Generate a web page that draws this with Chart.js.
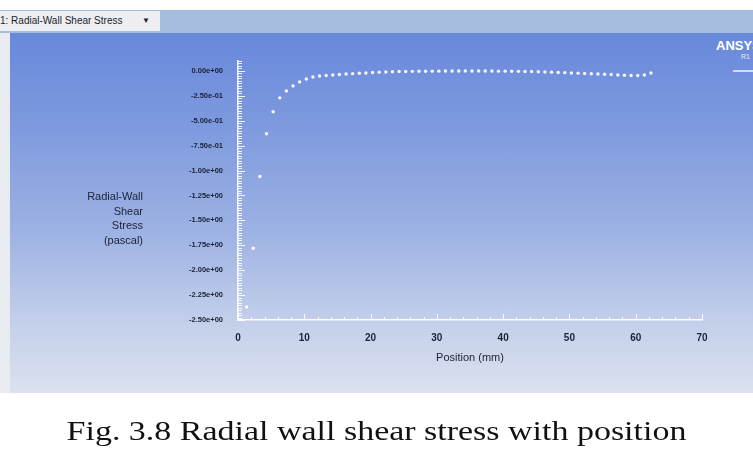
<!DOCTYPE html>
<html>
<head>
<meta charset="utf-8">
<script src="https://cdn.jsdelivr.net/npm/chart.js@4/dist/chart.umd.min.js"></script>
<style>
  html, body { margin:0; padding:0; background:#ffffff; }
  body { width:753px; height:464px; position:relative; overflow:hidden; }
  #toolbar { position:absolute; left:0; top:10px; width:753px; height:23px; background:#a6bcdf; }
  #dropdown { position:absolute; left:0; top:11px; width:160px; height:20px; background:#eceef1;
    font:10px "Liberation Sans Narrow","Liberation Sans",sans-serif; color:#1a1f2e; line-height:20px; }
  #dropdown span.arrow { position:absolute; left:142px; top:0; font-size:8px; }
  #leftedge { position:absolute; left:0; top:33px; width:10px; height:360px; background:#e8ebf0; }
  #panel { position:absolute; left:10px; top:33px; width:743px; height:360px;
    background:linear-gradient(to bottom,#6888db 0%,#7d99de 25%,#9db2e3 55%,#c3cfea 80%,#dbe1ee 100%); }
  #logo { position:absolute; left:716px; top:38px; color:#ffffff; font:bold 13px "Liberation Sans Narrow","Liberation Sans",sans-serif; }
  #logo2 { position:absolute; left:741px; top:53px; color:#e8eefc; font:7px "Liberation Sans",sans-serif; }
  #logo3 { position:absolute; left:733px; top:70px; width:20px; height:2px; background:#d0dcf4; }
  canvas { position:absolute; left:0; top:0; }
  #caption { position:absolute; left:0; top:415px; width:753px; text-align:center;
    font:28px "Liberation Serif","DejaVu Serif",serif; color:#111; white-space:nowrap; }
  #caption span { display:inline-block; transform-origin:center; }
</style>
</head>
<body>
<div id="toolbar"></div>
<div id="dropdown">1: Radial-Wall Shear Stress<span class="arrow">&#9660;</span></div>
<div id="leftedge"></div>
<div id="panel"></div>
<div id="logo">ANSYS</div>
<div id="logo2">R1</div>
<div id="logo3"></div>
<canvas id="c" width="753" height="464"></canvas>
<div id="caption"><span id="capText">Fig. 3.8 Radial wall shear stress with position</span></div>
<script>
// position along the wall (mm)
const positions = [
  1.3, 2.3, 3.3, 4.3, 5.3, 6.3, 7.3, 8.3, 9.3, 10.3,
  11.3, 12.3, 13.3, 14.3, 15.3, 16.3, 17.3, 18.3, 19.3, 20.3,
  21.3, 22.3, 23.3, 24.3, 25.3, 26.3, 27.3, 28.3, 29.3, 30.3,
  31.3, 32.3, 33.3, 34.3, 35.3, 36.3, 37.3, 38.3, 39.3, 40.3,
  41.3, 42.3, 43.3, 44.3, 45.3, 46.3, 47.3, 48.3, 49.3, 50.3,
  51.3, 52.3, 53.3, 54.3, 55.3, 56.3, 57.3, 58.3, 59.3, 60.3,
  61.3, 62.3
];
// radial wall shear stress (pascal)
const shearStress = [
  -2.37, -1.78, -1.06, -0.63, -0.41, -0.27, -0.20, -0.15, -0.11, -0.08,
  -0.06, -0.05, -0.045, -0.04, -0.035, -0.03, -0.027, -0.023, -0.02, -0.015,
  -0.012, -0.01, -0.008, -0.006, -0.005, -0.004, -0.003, -0.003, -0.002, -0.002,
  -0.001, -0.001, -0.001, 0, 0, 0, -0.001, -0.001, -0.002, -0.002,
  -0.003, -0.004, -0.005, -0.006, -0.008, -0.01, -0.012, -0.015, -0.017, -0.02,
  -0.022, -0.025, -0.028, -0.03, -0.033, -0.036, -0.04, -0.042, -0.045, -0.045,
  -0.04, -0.02
];
const yTicks = [0, -0.25, -0.5, -0.75, -1.0, -1.25, -1.5, -1.75, -2.0, -2.25, -2.5];
const xTicks = [0, 10, 20, 30, 40, 50, 60, 70];
const yTitleLines = ['Radial-Wall', 'Shear', 'Stress', '(pascal)'];
const xTitle = 'Position (mm)';

const narrow = '"Liberation Sans Narrow","Liberation Sans",sans-serif';

function sci(v){
  if (v === 0) return '0.00e+00';
  let s = v.toExponential(2);
  let [m, e] = s.split('e');
  let sign = e[0];
  let d = e.slice(1).padStart(2, '0');
  return m + 'e' + sign + d;
}

// minor ticks and the two axis titles
const decor = {
  id: 'decor',
  afterDraw(chart){
    const {ctx, scales:{x, y}} = chart;
    ctx.save();
    ctx.strokeStyle = 'rgba(255,255,255,0.9)';
    ctx.lineWidth = 1;
    const x0 = x.getPixelForValue(0);
    for (let k = 0; k <= 104; k++){
      const v = -2.5 + k * 0.025;
      const py = Math.round(y.getPixelForValue(v)) + 0.5;
      const len = (k % 10 === 0) ? 7 : 4;
      ctx.beginPath(); ctx.moveTo(x0, py); ctx.lineTo(x0 + len, py); ctx.stroke();
    }
    const y0 = y.getPixelForValue(-2.5);
    for (let m = 0; m <= 70; m += 2){
      const px = Math.round(x.getPixelForValue(m)) + 0.5;
      const len = (m % 10 === 0) ? 6 : 3;
      ctx.beginPath(); ctx.moveTo(px, y0); ctx.lineTo(px, y0 - len); ctx.stroke();
    }
    ctx.fillStyle = '#1b2238';
    ctx.font = '11px ' + narrow;
    ctx.textAlign = 'right';
    ctx.textBaseline = 'middle';
    yTitleLines.forEach((t, i) => ctx.fillText(t, 143, 197 + i * 14.5));
    ctx.textAlign = 'center';
    ctx.fillText(xTitle, (x.left + x.right) / 2, 358);
    ctx.restore();
  }
};

new Chart(document.getElementById('c'), {
  type: 'scatter',
  data: {
    datasets: [{
      label: 'Radial-Wall Shear Stress',
      data: positions.map((p, i) => ({x: p, y: shearStress[i]})),
      backgroundColor: 'rgba(255,255,255,0.95)',
      borderWidth: 0,
      pointRadius: 1.7,
      pointStyle: 'circle'
    }]
  },
  options: {
    responsive: false,
    devicePixelRatio: 1,
    animation: false,
    layout: { padding: { left: 168, right: 51, top: 61, bottom: 94 } },
    plugins: { legend: { display: false }, tooltip: { enabled: false } },
    scales: {
      x: {
        type: 'linear', min: 0, max: 70,
        afterBuildTicks: s => { s.ticks = xTicks.map(v => ({value: v})); },
        afterFit: s => { s.height = 50; },
        grid: { display: true, drawOnChartArea: false, drawTicks: false },
        border: { color: 'rgba(255,255,255,0.95)', width: 1.5 },
        ticks: { color: '#1b2238', font: { family: narrow, size: 10, weight: 'bold' }, padding: 12, maxRotation: 0, autoSkip: false }
      },
      y: {
        type: 'linear', min: -2.5, max: 0.1,
        afterBuildTicks: s => { s.ticks = yTicks.map(v => ({value: v})); },
        afterFit: s => { s.width = 70; },
        grid: { display: true, drawOnChartArea: false, drawTicks: false },
        border: { color: 'rgba(255,255,255,0.95)', width: 1.5 },
        ticks: { color: '#1b2238', font: { family: narrow, size: 7.5, weight: 'bold' }, padding: 15, autoSkip: false, callback: v => sci(v) }
      }
    }
  },
  plugins: [decor]
});

// stretch the caption to the width used in the figure
const cap = document.getElementById('capText');
cap.style.transform = 'scaleX(' + (620 / cap.offsetWidth).toFixed(3) + ')';
</script>
</body>
</html>
